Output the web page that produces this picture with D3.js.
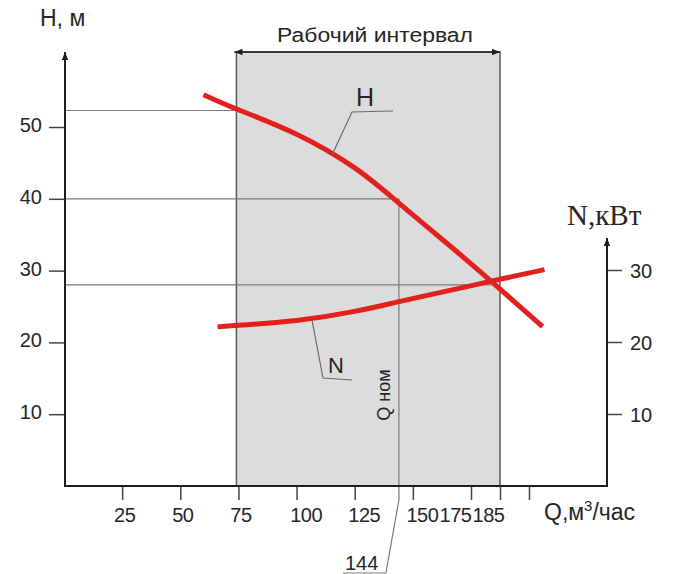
<!DOCTYPE html>
<html lang="ru">
<head>
<meta charset="UTF-8">
<title>Напорная характеристика</title>
<script src="https://d3js.org/d3.v7.min.js"></script>
<style>
  body, html { margin: 0; background: #fff; }
  svg text { font-family: "Liberation Sans", Arial, sans-serif; fill: #262626; }
  .serif { font-family: "Liberation Serif", "Times New Roman", serif; }
</style>
</head>
<body>
<div id="chart"></div>
<script>
// H curve, m
const qH = [60, 75, 100, 125, 144, 165, 182, 207];
const hVals = [54.5, 52.4, 49.0, 44.3, 39.4, 33.7, 28.5, 22.2];
// N curve, kW
const qN = [66, 100, 125, 144, 165, 182, 208];
const nVals = [22.1, 23.0, 24.25, 25.6, 27.1, 28.45, 30.05];

const qTicks = [25, 50, 75, 100, 125, 150, 175, 185, 200];
const hTicks = [10, 20, 30, 40, 50];
const nTicks = [10, 20, 30];
const workRange = [75, 185];
const qNom = 144;
// horizontal guide lines: [H value, Q where it stops]
const guides = [[52.3, 75], [40, 144], [28, 182]];

const width = 673, height = 574;
const topY = 52, axisY = 486;

const svg = d3.select("#chart").append("svg")
    .attr("width", width)
    .attr("height", height);

// the drawing's Q axis is not uniform past 175
const x = d3.scaleLinear()
    .domain([0, 175, 185, 200])
    .range([64, 471, 500, 529]);
const yH = d3.scaleLinear().domain([0, 50]).range([axisY, 127]);
const yN = d3.scaleLinear().domain([0, 30]).range([axisY, 270]);

const xL = x(0) + 1, xR = 607;

// working interval box
svg.append("rect")
    .attr("x", x(workRange[0]) - 2)
    .attr("y", topY)
    .attr("width", x(workRange[1]) - x(workRange[0]) + 2)
    .attr("height", axisY - topY)
    .attr("fill", "#dcdcdc")
    .attr("stroke", "#5a5a5a")
    .attr("stroke-width", 1.5);

// guide lines
svg.append("g").selectAll("line")
    .data(guides)
    .join("line")
    .attr("x1", xL)
    .attr("x2", d => x(d[1]))
    .attr("y1", d => yH(d[0]))
    .attr("y2", d => yH(d[0]))
    .attr("stroke", "#7a7a7a")
    .attr("stroke-width", 1.2);

// Q nom line with the 144 callout
svg.append("path")
    .attr("d", d3.line()([
        [x(qNom), yH(40)], [x(qNom), 500], [x(qNom) - 13, 573], [343, 573]
    ]))
    .attr("fill", "none")
    .attr("stroke", "#7a7a7a")
    .attr("stroke-width", 1.2);

svg.append("text")
    .attr("x", 345).attr("y", 570)
    .attr("font-size", 20)
    .text(qNom);

svg.append("text")
    .attr("transform", `translate(${x(qNom) - 9},395) rotate(-90)`)
    .attr("text-anchor", "middle")
    .attr("font-size", 18)
    .text("Q ном");

// arrowheads
const defs = svg.append("defs");
defs.append("marker")
    .attr("id", "arr")
    .attr("viewBox", "0 0 10 10")
    .attr("refX", 10).attr("refY", 5)
    .attr("markerWidth", 10).attr("markerHeight", 8)
    .attr("markerUnits", "userSpaceOnUse")
    .attr("orient", "auto-start-reverse")
    .append("path")
    .attr("d", "M0,1 L10,5 L0,9 Z")
    .attr("fill", "#1e1e1e");

// working interval arrow + label
svg.append("line")
    .attr("x1", x(workRange[0]) - 4).attr("x2", x(workRange[1]))
    .attr("y1", topY).attr("y2", topY)
    .attr("stroke", "#1e1e1e")
    .attr("stroke-width", 1.5)
    .attr("marker-start", "url(#arr)")
    .attr("marker-end", "url(#arr)");

svg.append("text")
    .attr("x", 277).attr("y", 42)
    .attr("font-size", 20)
    .attr("textLength", 196)
    .attr("lengthAdjust", "spacingAndGlyphs")
    .text("Рабочий интервал");

// curves
const lineH = d3.line()
    .x(d => x(d[0])).y(d => yH(d[1]))
    .curve(d3.curveNatural);
const lineN = d3.line()
    .x(d => x(d[0])).y(d => yN(d[1]))
    .curve(d3.curveNatural);

svg.append("path")
    .attr("d", lineN(d3.zip(qN, nVals)))
    .attr("fill", "none")
    .attr("stroke", "#e3201b")
    .attr("stroke-width", 5);

svg.append("path")
    .attr("d", lineH(d3.zip(qH, hVals)))
    .attr("fill", "none")
    .attr("stroke", "#e3201b")
    .attr("stroke-width", 5);

// curve callouts
svg.append("path")
    .attr("d", d3.line()([[332, 155], [352, 112], [393, 111]]))
    .attr("fill", "none").attr("stroke", "#6a6a6a").attr("stroke-width", 1.2);
svg.append("text")
    .attr("x", 356).attr("y", 106)
    .attr("font-size", 25)
    .text("H");

svg.append("path")
    .attr("d", d3.line()([[312, 320], [323, 378], [352, 380]]))
    .attr("fill", "none").attr("stroke", "#6a6a6a").attr("stroke-width", 1.2);
svg.append("text")
    .attr("x", 328).attr("y", 373)
    .attr("font-size", 22)
    .text("N");

// axes
const axisColor = "#1e1e1e";

const gL = svg.append("g")
    .attr("transform", `translate(${xL},0)`)
    .call(d3.axisLeft(yH).tickValues(hTicks).tickSize(16).tickPadding(7));
gL.select(".domain").remove();
gL.selectAll(".tick line").attr("stroke", "#444").attr("stroke-width", 1.5);
gL.selectAll(".tick text").attr("font-size", 20).attr("dy", "0.22em")
    .attr("font-family", "Liberation Sans, Arial, sans-serif").attr("fill", "#262626");

const gR = svg.append("g")
    .attr("transform", `translate(${xR},0)`)
    .call(d3.axisRight(yN).tickValues(nTicks).tickSize(15).tickPadding(8));
gR.select(".domain").remove();
gR.selectAll(".tick line").attr("stroke", "#444").attr("stroke-width", 1.5);
gR.selectAll(".tick text").attr("font-size", 20).attr("dy", "0.38em")
    .attr("font-family", "Liberation Sans, Arial, sans-serif").attr("fill", "#262626");

const gB = svg.append("g")
    .attr("transform", `translate(0,${axisY})`)
    .call(d3.axisBottom(x).tickValues(qTicks).tickSize(14).tickPadding(8)
        .tickFormat(d => d === 200 ? "" : d));
gB.select(".domain").remove();
gB.selectAll(".tick line").attr("stroke", "#444").attr("stroke-width", 1.5);
gB.selectAll(".tick text").attr("font-size", 20)
    .attr("letter-spacing", "-0.5px")
    .attr("font-family", "Liberation Sans, Arial, sans-serif").attr("fill", "#262626")
    .attr("dx", d => d < 100 ? 2 : d <= 150 ? 9 : d === 175 ? -16 : -12);

// axis lines
svg.append("line")
    .attr("x1", xL).attr("x2", xL).attr("y1", axisY).attr("y2", topY)
    .attr("stroke", axisColor).attr("stroke-width", 2)
    .attr("marker-end", "url(#arr)");
svg.append("line")
    .attr("x1", xR).attr("x2", xR).attr("y1", axisY).attr("y2", 238)
    .attr("stroke", axisColor).attr("stroke-width", 2)
    .attr("marker-end", "url(#arr)");
svg.append("line")
    .attr("x1", xL - 1).attr("x2", xR + 1).attr("y1", axisY).attr("y2", axisY)
    .attr("stroke", axisColor).attr("stroke-width", 2.2);

// axis titles
svg.append("text")
    .attr("x", 40).attr("y", 26)
    .attr("font-size", 23)
    .text("H, м");

svg.append("text")
    .attr("class", "serif")
    .attr("x", 567).attr("y", 225)
    .attr("font-size", 29)
    .text("N,кВт");

const qt = svg.append("text")
    .attr("x", 544).attr("y", 520)
    .attr("font-size", 23);
qt.append("tspan").text("Q,м");
qt.append("tspan").attr("font-size", 15).attr("dy", -9).text("3");
qt.append("tspan").attr("dy", 9).text("/час");
</script>
</body>
</html>
